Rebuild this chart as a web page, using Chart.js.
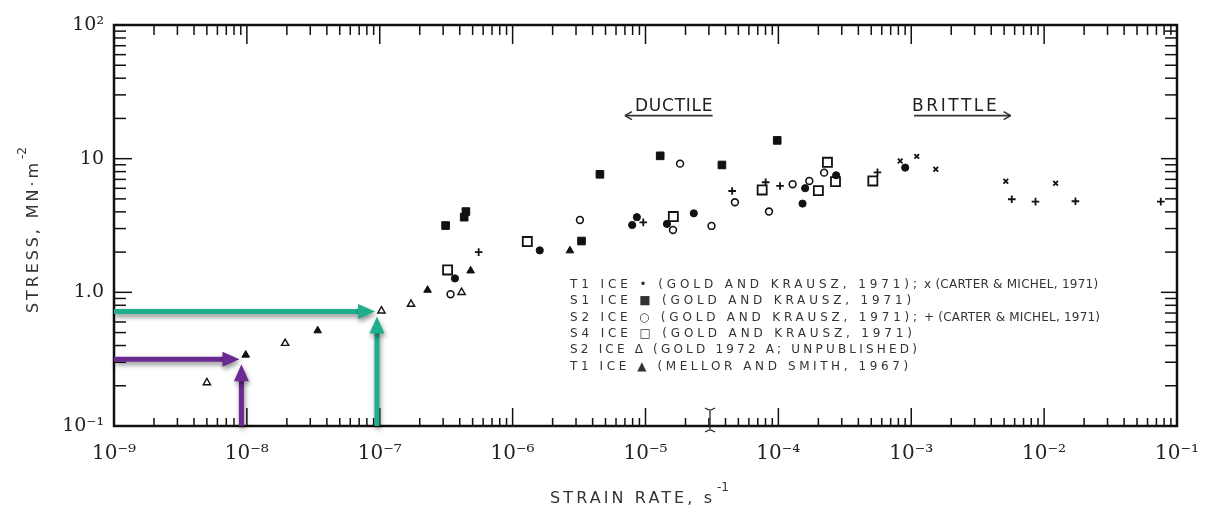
<!DOCTYPE html>
<html>
<head>
<meta charset="utf-8">
<script src="https://cdn.jsdelivr.net/npm/chart.js@4.4.1/dist/chart.umd.min.js"></script>
<style>
  html, body { margin: 0; padding: 0; background: #fff; }
  canvas { display: block; }
</style>
</head>
<body>
<canvas id="c" width="1206" height="508"></canvas>
<script>
// ---- Strain rate (s^-1) vs. stress (MN m^-2) by ice type and source ----
const t1GoldRate    = [3.68e-7, 1.60e-6, 7.94e-6, 8.61e-6, 1.45e-5, 2.31e-5, 1.52e-4, 1.59e-4, 2.72e-4, 9.0e-4];
const t1GoldStress  = [1.27, 2.06, 3.19, 3.65, 3.25, 3.90, 4.61, 6.01, 7.51, 8.57];

const s1GoldRate    = [3.13e-7, 4.32e-7, 4.45e-7, 3.30e-6, 4.54e-6, 1.29e-5, 3.76e-5, 9.8e-5];
const s1GoldStress  = [3.16, 3.65, 4.02, 2.42, 7.64, 10.5, 8.97, 13.7];

const s2GoldRate    = [3.41e-7, 3.21e-6, 1.61e-5, 1.82e-5, 3.14e-5, 4.71e-5, 8.5e-5, 1.28e-4, 1.71e-4, 2.21e-4];
const s2GoldStress  = [0.968, 3.48, 2.93, 9.18, 3.14, 4.72, 4.02, 6.44, 6.81, 7.86];

const s4GoldRate    = [3.24e-7, 1.29e-6, 1.62e-5, 7.55e-5, 2.0e-4, 2.34e-4, 2.69e-4, 5.14e-4];
const s4GoldStress  = [1.47, 2.40, 3.69, 5.83, 5.76, 9.4, 6.73, 6.81];

const s2Gold72Rate   = [5.0e-9, 1.94e-8, 1.03e-7, 1.72e-7, 4.13e-7];
const s2Gold72Stress = [0.211, 0.416, 0.726, 0.815, 1.0];

const t1MellorRate   = [9.8e-9, 3.41e-8, 2.29e-7, 4.83e-7, 2.70e-6];
const t1MellorStress = [0.340, 0.517, 1.04, 1.45, 2.05];

const t1CarterRate   = [8.26e-4, 1.10e-3, 1.53e-3, 5.15e-3, 1.22e-2];
const t1CarterStress = [9.6, 10.4, 8.33, 6.78, 6.55];

const s2CarterRate   = [5.55e-7, 9.62e-6, 4.49e-5, 8.02e-5, 1.03e-4, 5.57e-4, 5.71e-3, 8.61e-3, 1.72e-2, 7.55e-2];
const s2CarterStress = [2.0, 3.34, 5.73, 6.66, 6.25, 7.91, 4.97, 4.77, 4.80, 4.77];

// Axis decades and their labels
const xTickValues = [1e-9, 1e-8, 1e-7, 1e-6, 1e-5, 1e-4, 1e-3, 1e-2, 1e-1];
const xTickLabels = ['10\u207B\u2079', '10\u207B\u2078', '10\u207B\u2077', '10\u207B\u2076', '10\u207B\u2075',
                     '10\u207B\u2074', '10\u207B\u00B3', '10\u207B\u00B2', '10\u207B\u00B9'];
const yTickValues = [0.1, 1, 10, 100];
const yTickLabels = ['10\u207B\u00B9', '1.0', '10', '10\u00B2'];

// Guide arrows: strain rate and stress they point at
const guideRates    = [9.1e-9, 9.53e-8];
const guideStresses = [0.316, 0.718];
const guideColors   = ['#6b2a92', '#1fae8d'];

// Regime labels and the strain-rate spans of their arrows
const regimeLabels   = ['DUCTILE', 'BRITTLE'];
const regimeFrom     = [3.2e-5, 1.05e-3];
const regimeTo       = [7.0e-6, 5.6e-3];
const regimeStress   = [21, 21];

// Key lines
const keyLines = [
  [['T1 ICE \u2022 (GOLD AND KRAUSZ, 1971);', 570, 917], ['x (CARTER & MICHEL, 1971)', 924, 1098]],
  [['S1 ICE \u25A0 (GOLD AND KRAUSZ, 1971)', 570, 911]],
  [['S2 ICE \u25CB (GOLD AND KRAUSZ, 1971);', 570, 917], ['+ (CARTER & MICHEL, 1971)', 924, 1100]],
  [['S4 ICE \u25A1 (GOLD AND KRAUSZ, 1971)', 570, 912]],
  [['S2 ICE \u0394 (GOLD 1972 A; UNPUBLISHED)', 570, 917]],
  [['T1 ICE \u25B2 (MELLOR AND SMITH, 1967)', 570, 908]]
];

const INK = '#111';

function series(label, xs, ys, style, fill, radius, bw) {
  return {
    label,
    data: xs.map((v, i) => ({ x: v, y: ys[i] })),
    pointStyle: style,
    pointRadius: radius,
    pointHoverRadius: radius,
    backgroundColor: fill,
    borderColor: INK,
    borderWidth: bw,
    showLine: false
  };
}

function line(ctx, x0, y0, x1, y1) {
  ctx.beginPath(); ctx.moveTo(x0, y0); ctx.lineTo(x1, y1); ctx.stroke();
}

function fitText(ctx, text, x0, x1, y) {
  ctx.letterSpacing = '0px';
  const w = ctx.measureText(text).width;
  const n = Array.from(text).length;
  const ls = (x1 - x0 - w) / Math.max(1, n - 1);
  ctx.letterSpacing = ls.toFixed(2) + 'px';
  ctx.fillText(text, x0, y);
  ctx.letterSpacing = '0px';
}

function fatArrow(ctx, x0, y0, x1, y1, color) {
  const ang = Math.atan2(y1 - y0, x1 - x0);
  const head = 17, half = 7.5;
  const bx = x1 - head * Math.cos(ang), by = y1 - head * Math.sin(ang);
  ctx.save();
  ctx.shadowColor = 'rgba(0,0,0,0.45)';
  ctx.shadowBlur = 5;
  ctx.shadowOffsetX = 1;
  ctx.shadowOffsetY = 3;
  ctx.strokeStyle = color;
  ctx.fillStyle = color;
  ctx.lineWidth = 5;
  ctx.lineCap = 'butt';
  ctx.beginPath(); ctx.moveTo(x0, y0); ctx.lineTo(bx + Math.cos(ang), by + Math.sin(ang)); ctx.stroke();
  ctx.beginPath();
  ctx.moveTo(x1, y1);
  ctx.lineTo(bx - half * Math.sin(ang), by + half * Math.cos(ang));
  ctx.lineTo(bx + half * Math.sin(ang), by - half * Math.cos(ang));
  ctx.closePath();
  ctx.fill();
  ctx.restore();
}

// Frame with inward log ticks on all four sides
const framePlugin = {
  id: 'frame',
  beforeDatasetsDraw(chart) {
    const { ctx, chartArea: a, scales: { x, y } } = chart;
    ctx.save();
    ctx.strokeStyle = INK;
    ctx.lineWidth = 1.5;
    for (let d = -9; d <= -1; d++) {
      for (let m = 1; m <= 9; m++) {
        if (d === -1 && m > 1) break;
        const px = x.getPixelForValue(m * Math.pow(10, d));
        const major = m === 1;
        line(ctx, px, a.top, px, a.top + (major ? 19 : 10));
        line(ctx, px, a.bottom, px, a.bottom - (major ? 18 : 8));
      }
    }
    for (let d = -1; d <= 2; d++) {
      for (let m = 1; m <= 9; m++) {
        if (d === 2 && m > 1) break;
        const py = y.getPixelForValue(m * Math.pow(10, d));
        const major = m === 1;
        line(ctx, a.left, py, a.left + (major ? 18 : 12), py);
        line(ctx, a.right, py, a.right - (major ? 16 : 12), py);
      }
    }
    ctx.lineWidth = 2.5;
    ctx.strokeRect(a.left, a.top, a.right - a.left, a.bottom - a.top);
    ctx.restore();
  },
  afterDatasetsDraw(chart) {
    const { ctx, chartArea: a, scales: { x, y } } = chart;
    ctx.save();

    // guide arrows
    guideRates.forEach((r, i) => {
      const px = x.getPixelForValue(r);
      const py = y.getPixelForValue(guideStresses[i]);
      fatArrow(ctx, a.left, py, px - 2, py, guideColors[i]);
      fatArrow(ctx, px, a.bottom, px, py + 5, guideColors[i]);
    });

    // ductile / brittle labels with thin arrows
    ctx.fillStyle = '#222';
    ctx.strokeStyle = '#333';
    ctx.lineWidth = 1.6;
    ctx.font = '17px "DejaVu Sans"';
    ctx.textBaseline = 'alphabetic';
    regimeLabels.forEach((t, i) => {
      const xa = x.getPixelForValue(regimeFrom[i]);
      const xb = x.getPixelForValue(regimeTo[i]);
      const yy = y.getPixelForValue(regimeStress[i]);
      const left = Math.min(xa, xb), right = Math.max(xa, xb);
      const tx0 = i === 0 ? left + 10 : left - 2;
      const tx1 = i === 0 ? right : right - 14;
      fitText(ctx, t, tx0, tx1, yy - 5);
      line(ctx, xa, yy, xb, yy);
      const dir = xb > xa ? 1 : -1;
      line(ctx, xb, yy, xb - dir * 7, yy - 4);
      line(ctx, xb, yy, xb - dir * 7, yy + 4);
    });

    // key
    ctx.fillStyle = '#333';
    ctx.font = '12px "DejaVu Sans"';
    ctx.textBaseline = 'middle';
    keyLines.forEach((parts, i) => {
      const yy = 285 + i * 16.3;
      parts.forEach(p => fitText(ctx, p[0], p[1], p[2], yy));
    });

    // axis titles
    ctx.fillStyle = '#333';
    ctx.font = '16px "DejaVu Sans"';
    ctx.textAlign = 'left';
    ctx.textBaseline = 'alphabetic';
    fitText(ctx, 'STRAIN RATE, s', 550, 712, 503);
    ctx.font = '12px "DejaVu Sans"';
    ctx.fillText('-1', 717, 491);

    ctx.save();
    ctx.translate(38, 313);
    ctx.rotate(-Math.PI / 2);
    ctx.font = '16px "DejaVu Sans"';
    fitText(ctx, 'STRESS, MN\u00B7m', 0, 150, 0);
    ctx.font = '12px "DejaVu Sans"';
    ctx.fillText('-2', 154, -12);
    ctx.restore();

    // text cursor mark on the lower axis
    ctx.strokeStyle = '#222';
    ctx.lineWidth = 1.3;
    line(ctx, 710, 409, 710, 431);
    line(ctx, 705, 408, 709, 410);
    line(ctx, 715, 408, 711, 410);
    line(ctx, 705, 432, 709, 430);
    line(ctx, 715, 432, 711, 430);

    ctx.restore();
  }
};

new Chart(document.getElementById('c'), {
  type: 'scatter',
  data: {
    datasets: [
      series('T1 ICE (GOLD AND KRAUSZ, 1971)', t1GoldRate, t1GoldStress, 'circle', INK, 3.6, 1),
      series('S1 ICE (GOLD AND KRAUSZ, 1971)', s1GoldRate, s1GoldStress, 'rect', INK, 5.4, 1),
      series('S2 ICE (GOLD AND KRAUSZ, 1971)', s2GoldRate, s2GoldStress, 'circle', '#fff', 3.4, 1.6),
      series('S4 ICE (GOLD AND KRAUSZ, 1971)', s4GoldRate, s4GoldStress, 'rect', '#fff', 6.4, 1.8),
      series('S2 ICE (GOLD 1972 A; UNPUBLISHED)', s2Gold72Rate, s2Gold72Stress, 'triangle', '#fff', 4.2, 1.4),
      series('T1 ICE (MELLOR AND SMITH, 1967)', t1MellorRate, t1MellorStress, 'triangle', INK, 4.4, 1),
      series('T1 ICE (CARTER & MICHEL, 1971)', t1CarterRate, t1CarterStress, 'crossRot', INK, 3.3, 1.8),
      series('S2 ICE (CARTER & MICHEL, 1971)', s2CarterRate, s2CarterStress, 'cross', INK, 3.8, 1.8)
    ]
  },
  options: {
    responsive: false,
    animation: false,
    devicePixelRatio: 1,
    layout: { padding: { top: 25, right: 29, left: 0, bottom: 0 } },
    plugins: { legend: { display: false }, tooltip: { enabled: false } },
    scales: {
      x: {
        type: 'logarithmic',
        min: 1e-9,
        max: 1e-1,
        grid: { display: false, drawTicks: false },
        border: { display: false },
        afterBuildTicks: s => { s.ticks = xTickValues.map(v => ({ value: v })); },
        afterFit: s => { s.height = 82; s.paddingLeft = 0; s.paddingRight = 0; },
        ticks: {
          autoSkip: false,
          maxRotation: 0,
          padding: 16,
          color: '#222',
          font: { family: '"DejaVu Serif"', size: 20 },
          callback: (v, i) => xTickLabels[i]
        }
      },
      y: {
        type: 'logarithmic',
        min: 0.1,
        max: 100,
        grid: { display: false, drawTicks: false },
        border: { display: false },
        afterBuildTicks: s => { s.ticks = yTickValues.map(v => ({ value: v })); },
        afterFit: s => { s.width = 114; s.paddingTop = 0; s.paddingBottom = 0; },
        ticks: {
          autoSkip: false,
          padding: 10,
          color: '#222',
          font: { family: '"DejaVu Serif"', size: 19 },
          callback: (v, i) => yTickLabels[i]
        }
      }
    }
  },
  plugins: [framePlugin]
});
</script>
</body>
</html>
